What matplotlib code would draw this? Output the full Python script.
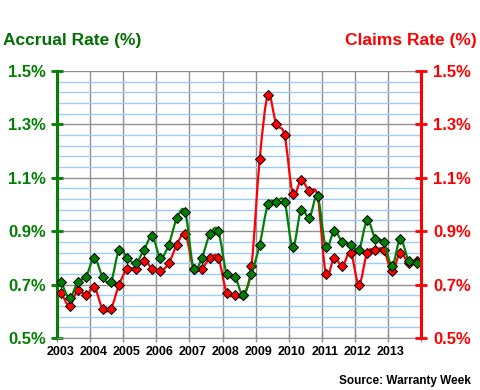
import matplotlib
matplotlib.use('Agg')
import numpy as np
import matplotlib.pyplot as plt
from matplotlib.path import Path
from matplotlib.patches import PathPatch
from matplotlib.ticker import MultipleLocator
from matplotlib.transforms import ScaledTranslation

plt.rcParams['font.family'] = ['Liberation Sans', 'DejaVu Sans']

# quarterly values, 2003 Q1 .. 2013 Q4
years = list(range(2003, 2014))
accrual = [0.71, 0.65, 0.71, 0.73, 0.80, 0.73, 0.71, 0.83,
           0.80, 0.78, 0.83, 0.88, 0.80, 0.85, 0.95, 0.97,
           0.76, 0.80, 0.89, 0.90, 0.74, 0.73, 0.66, 0.74,
           0.85, 1.00, 1.01, 1.01, 0.84, 0.98, 0.95, 1.03,
           0.84, 0.90, 0.86, 0.85, 0.83, 0.94, 0.87, 0.86,
           0.77, 0.87, 0.79, 0.78]
claims = [0.67, 0.62, 0.68, 0.66, 0.69, 0.61, 0.61, 0.70,
          0.76, 0.76, 0.79, 0.76, 0.75, 0.78, 0.85, 0.89,
          0.76, 0.76, 0.80, 0.80, 0.67, 0.66, 0.66, 0.77,
          1.17, 1.41, 1.30, 1.26, 1.04, 1.09, 1.05, 1.03,
          0.74, 0.80, 0.77, 0.82, 0.70, 0.82, 0.83, 0.83,
          0.75, 0.82, 0.78, 0.79]
quarters = [y + (q + 0.5) / 4 for y in years for q in range(4)]
yticks = [0.5, 0.7, 0.9, 1.1, 1.3, 1.5]

GREEN = '#008000'
RED = '#ff0000'


def smooth_path(xs, ys):
    # bezier segments like a spreadsheet "smoothed line"
    p = np.column_stack([xs, ys])
    n = len(p)
    verts = [p[0]]
    codes = [Path.MOVETO]
    for i in range(n - 1):
        p0 = p[i - 1] if i > 0 else p[i]
        p3 = p[i + 2] if i + 2 < n else p[i + 1]
        c1 = p[i] + (p[i + 1] - p0) / 6
        c2 = p[i + 1] - (p3 - p[i]) / 6
        verts += [c1, c2, p[i + 1]]
        codes += [Path.CURVE4] * 3
    return Path(verts, codes)


def pct(v, pos):
    return f'{v:.1f}%'


fig = plt.figure(figsize=(4.8, 3.9), dpi=100)
ax = fig.add_axes([0.119, 0.1333, 0.758, 0.685])
ax.set_xlim(2003, 2014)
ax.set_ylim(0.5, 1.5)

# grid
ax.set_yticks(yticks)
ax.yaxis.set_minor_locator(MultipleLocator(0.04, offset=0.02))
ax.grid(which='minor', axis='y', color='#99ccff', lw=1, zorder=0)
ax.grid(which='major', axis='y', color='#909090', lw=1, zorder=0.5)
ax.set_xticks(range(2003, 2015))
ax.grid(which='major', axis='x', color='#909090', lw=1, zorder=0.5)

for vals, col, z in [(claims, RED, 3), (accrual, GREEN, 4)]:
    ax.add_patch(PathPatch(smooth_path(quarters, vals), facecolor='none',
                           edgecolor=col, lw=1.6, zorder=z))
    ax.plot(quarters, vals, ls='none', marker='D', ms=5, mfc=col,
            mec='black', mew=0.7, zorder=z + 0.5)

ax.set_xticklabels([str(y) for y in years] + [''])
ax.spines['top'].set_visible(False)
ax.spines['right'].set_visible(False)
ax.spines['bottom'].set_color('#909090')
ax.spines['left'].set_color(GREEN)
ax.spines['left'].set_linewidth(2.2)
ax.tick_params(axis='x', direction='inout', length=6, width=1, color='#909090',
               labelsize=9, pad=3)
for lab in ax.get_xticklabels():
    lab.set_fontweight('bold')
    lab.set_transform(lab.get_transform() + ScaledTranslation(0.03, 0, fig.dpi_scale_trans))
ax.tick_params(axis='y', which='major', direction='inout', length=8, width=2,
               color=GREEN, labelcolor=GREEN, labelsize=12, pad=4)
ax.tick_params(axis='y', which='minor', length=0)
ax.yaxis.set_major_formatter(pct)
for lab in ax.get_yticklabels():
    lab.set_fontweight('bold')

ax2 = ax.twinx()
ax2.set_ylim(0.5, 1.5)
ax2.set_yticks(yticks)
ax2.yaxis.set_major_formatter(pct)
for s in ['top', 'left', 'bottom']:
    ax2.spines[s].set_visible(False)
ax2.spines['right'].set_color(RED)
ax2.spines['right'].set_linewidth(2.2)
ax2.tick_params(axis='y', direction='inout', length=8, width=2, color=RED,
                labelcolor=RED, labelsize=12, pad=5)
for lab in ax2.get_yticklabels():
    lab.set_fontweight('bold')

fig.text(3 / 480, 1 - 41 / 390, 'Accrual Rate (%)', color='#007000', fontsize=12.5,
         fontweight='bold', ha='left', va='center')
fig.text(477 / 480, 1 - 41 / 390, 'Claims Rate (%)', color=RED, fontsize=12.5,
         fontweight='bold', ha='right', va='center')
fig.text(471 / 480, 1 - 381 / 390, 'Source: Warranty Week', color='black', fontsize=8.5,
         fontweight='bold', ha='right', va='center')

fig.savefig('out.png', dpi=100)
